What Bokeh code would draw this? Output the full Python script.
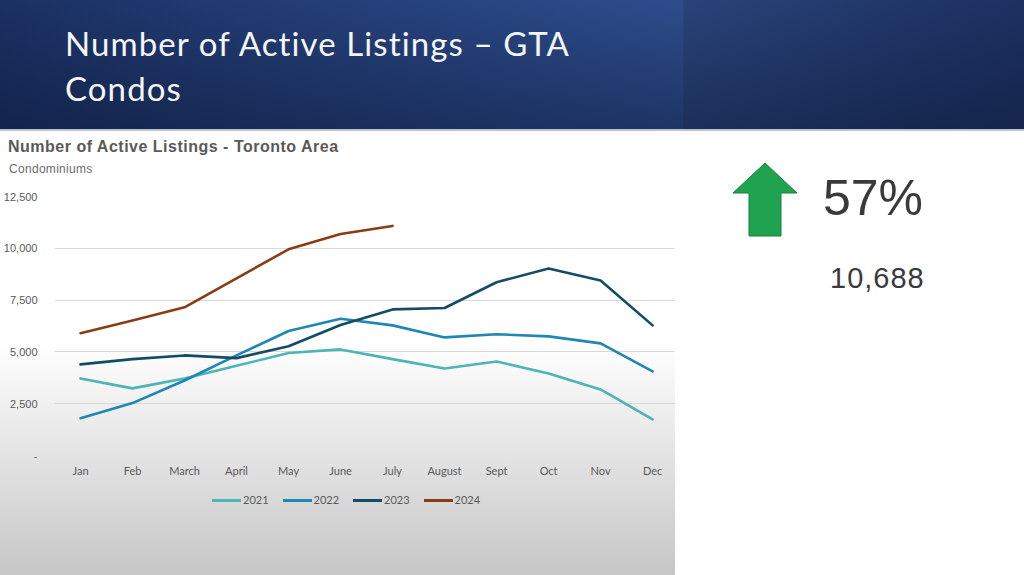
from bokeh.plotting import figure
from bokeh.models import Range1d, FixedTicker, Div
from bokeh.layouts import column, row
from bokeh.embed import file_html
from bokeh.resources import INLINE

# ---------------- data ----------------
months = ["Jan", "Feb", "March", "April", "May", "June", "July",
          "August", "Sept", "Oct", "Nov", "Dec"]
years = ["2021", "2022", "2023", "2024"]
y2021 = [3720, 3240, 3720, 4330, 4950, 5120, 4650, 4200, 4540, 3960, 3190, 1740]
y2022 = [1800, 2530, 3620, 4830, 6010, 6600, 6280, 5700, 5850, 5750, 5410, 4060]
y2023 = [4400, 4650, 4830, 4700, 5270, 6300, 7050, 7120, 8360, 9030, 8450, 6280]
y2024 = [5900, 6520, 7150, 8550, 9950, 10688, 11080]
series_colors = ["#4db6b4", "#1e87b3", "#124d63", "#8a3c14"]

y_ticks = [0, 2500, 5000, 7500, 10000, 12500]
y_tick_labels = ["-", "2,500", "5,000", "7,500", "10,000", "12,500"]

header_title = "Number of Active Listings – GTA"
header_sub = "Condos"
chart_title = "Number of Active Listings - Toronto Area"
chart_sub = "Condominiums"
kpi_change = "57%"
kpi_value = "10,688"

# ---------------- header ----------------
hdr = Div(
    text=(f'<div style="font-family:Lato;font-size:33px;letter-spacing:1.1px;line-height:45px;'
          f'color:#f4f6fa;padding:21px 0 0 65px;white-space:nowrap">{header_title}<br>{header_sub}</div>'),
    width=1024, height=131, margin=0,
    styles={"background":
            "linear-gradient(#b9c3d3, #b9c3d3) 0 129px / 100% 2px no-repeat, "
            "linear-gradient(to bottom, rgba(8,19,43,0) 0%, rgba(8,19,43,0.42) 100%), "
            "linear-gradient(to right, #2a4479 0%, #21386a 60%, #1d3161 100%) 683px 0 / 341px 131px no-repeat, "
            "linear-gradient(to right, #1b3163 0%, #2b4987 55%, #36599b 100%)",
            "overflow": "hidden"})

# ---------------- chart titles ----------------
title_div = Div(
    text=(f'<div style="position:relative;width:675px;height:61px">'
          f'<div style="position:absolute;left:8px;top:8px;font-family:\'Liberation Sans\';font-size:16px;'
          f'letter-spacing:0.5px;line-height:16px;font-weight:bold;color:#595959;white-space:nowrap">{chart_title}</div>'
          f'<div style="position:absolute;left:9px;top:32px;font-family:\'Liberation Sans\';font-size:12px;'
          f'letter-spacing:0.3px;line-height:12px;color:#6b6b6b;white-space:nowrap">{chart_sub}</div></div>'),
    width=675, height=61, margin=0, styles={"background": "#ffffff"})

# ---------------- chart ----------------
x = list(range(len(months)))

p = figure(width=675, height=293, output_backend="svg", toolbar_location=None, title=None,
           x_range=Range1d(-0.5, 11.44), y_range=Range1d(0, 12500),
           min_border_left=54, min_border_right=0, min_border_top=4, min_border_bottom=30,
           margin=0,
           styles={"background": "linear-gradient(to bottom, #ffffff 0%, #ffffff 52%, #dcdcdc 100%)"})
p.background_fill_alpha = 0
p.border_fill_alpha = 0
p.outline_line_color = None

p.yaxis.ticker = FixedTicker(ticks=y_ticks)
p.yaxis.major_label_overrides = {t: l for t, l in zip(y_ticks, y_tick_labels)}
p.yaxis.axis_line_color = None
p.yaxis.major_tick_line_color = None
p.yaxis.minor_tick_line_color = None
p.yaxis.major_label_standoff = 11
p.yaxis.major_label_text_font = "Liberation Sans"
p.yaxis.major_label_text_font_size = "11px"
p.yaxis.major_label_text_color = "#595959"

p.xaxis.ticker = FixedTicker(ticks=x)
p.xaxis.major_label_overrides = {i: mth for i, mth in zip(x, months)}
p.xaxis.axis_line_color = None
p.xaxis.major_tick_line_color = None
p.xaxis.minor_tick_line_color = None
p.xaxis.major_label_standoff = 2
p.xaxis.major_label_text_font = "Lato"
p.xaxis.major_label_text_font_size = "11px"
p.xaxis.major_label_text_color = "#595959"

p.ygrid.ticker = FixedTicker(ticks=y_ticks)
p.ygrid.grid_line_color = "#d9d9d9"
p.xgrid.grid_line_color = None

for yr, ys, c in zip(years, [y2021, y2022, y2023, y2024], series_colors):
    p.line(x[:len(ys)], ys, line_color=c, line_width=2.6, line_join="round", line_cap="round")

# ---------------- legend (below the chart) ----------------
legend_html = ['<div style="position:relative;width:675px;height:90px">']
for i, (yr, c) in enumerate(zip(years, series_colors)):
    gx = 212 + i * 70.5
    legend_html.append(f'<div style="position:absolute;left:{gx}px;top:13.5px;width:29px;height:3px;'
                       f'background:{c}"></div>')
    legend_html.append(f'<div style="position:absolute;left:{gx + 31}px;top:9px;font-family:Lato;'
                       f'font-size:11px;line-height:11px;color:#595959;white-space:nowrap">{yr}</div>')
legend_html.append('</div>')
legend_div = Div(text="".join(legend_html), width=675, height=90, margin=0,
                 styles={"background": "linear-gradient(to bottom, #dcdcdc 0%, #c6c6c6 100%)"})

# ---------------- KPI panel ----------------
side = Div(
    text=(f'<svg width="349" height="444" xmlns="http://www.w3.org/2000/svg">'
          f'<polygon points="90,32 122,62 106,62 106,105 74,105 74,62 58,62" '
          f'fill="#20a34f" stroke="#17803c" stroke-width="1"/>'
          f'<text x="148" y="84" font-family="Lato" font-size="50" fill="#3a3a3a">{kpi_change}</text>'
          f'<text x="155" y="157" font-family="Lato" font-size="29" letter-spacing="1" '
          f'fill="#3a3a3a">{kpi_value}</text>'
          f'</svg>'),
    width=349, height=444, margin=0, styles={"background": "#ffffff"})

layout = column(hdr, row(column(title_div, p, legend_div, spacing=0), side, spacing=0), spacing=0)

open("out.html", "w").write(file_html(layout, INLINE))
